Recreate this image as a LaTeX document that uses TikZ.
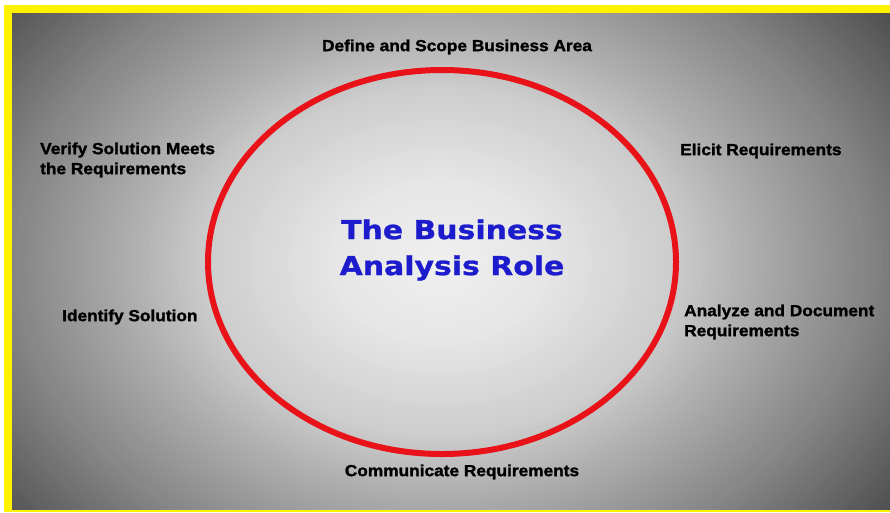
\documentclass[tikz,border=0pt]{standalone}
\usepackage{fontspec}
\usetikzlibrary{shapes.geometric}
\setmainfont{Liberation Sans}
\newfontfamily\lblfont[FakeBold=1.6, FakeStretch=1.08]{Liberation Sans}
\newfontfamily\centerfont[FakeBold=1, FakeStretch=1.15]{DejaVu Sans}
\definecolor{ringred}{RGB}{232,18,24}
\definecolor{titleblue}{RGB}{28,28,205}
\definecolor{bgdark}{RGB}{80,80,80}
\tikzset{
  lbl/.style={inner sep=0pt, font=\lblfont\bfseries\fontsize{16}{20}\selectfont, text=black},
  ttl/.style={inner sep=0pt, align=center, font=\centerfont\bfseries\fontsize{26}{36}\selectfont, text=titleblue},
  ring/.style={draw=ringred, line width=6pt}
}
\begin{document}
\begin{tikzpicture}[x=1pt,y=-1pt]
\useasboundingbox (0,0) rectangle (890,512);
\fill[white] (0,0) rectangle (890,512);
\fill[yellow] (4,5) rectangle (890,512);
\begin{scope}
\clip (12,13) rectangle (890,509);
\fill[bgdark] (12,13) rectangle (890,509);
\foreach \k in {100,99,...,1} {
  \pgfmathsetmacro\d{\k/100}
  \pgfmathtruncatemacro\g{\d<0.2 ? 240-50*\d : (\d<0.42 ? 230-(\d-0.2)*113.6 : (\d<0.58 ? 205-(\d-0.42)*218.75 : (\d<0.76 ? 170-(\d-0.58)*194.4 : 135-(\d-0.76)*229)))}
  \pgfmathsetmacro\rx{560*\d}
  \pgfmathsetmacro\ry{420*\d}
  \fill[color={rgb,255:red,\g;green,\g;blue,\g}] (440,262) ellipse [x radius=\rx pt, y radius=\ry pt];
}
\end{scope}
\node[ring, ellipse, minimum width=468pt, minimum height=384pt, inner sep=0pt] (circ) at (442,262) {};
\node[ttl] (title) at (452,250) {The Business\\Analysis Role};
\node[lbl] (define) at (457,47) {Define and Scope Business Area};
\node[lbl, anchor=west] (elicit) at (680,151) {Elicit Requirements};
\node[lbl, anchor=west, align=left] (analyze) at (684,322) {Analyze and Document\\Requirements};
\node[lbl] (comm) at (462,472) {Communicate Requirements};
\node[lbl, anchor=west] (identify) at (62,317) {Identify Solution};
\node[lbl, anchor=west, align=left] (verify) at (40,160) {Verify Solution Meets\\the Requirements};
\end{tikzpicture}
\end{document}
